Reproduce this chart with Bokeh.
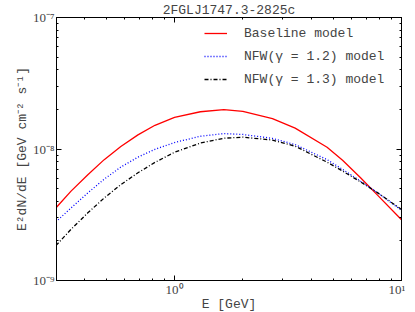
from bokeh.plotting import figure
from bokeh.models import (Range1d, LogAxis, FixedTicker, CustomJSTickFormatter,
                          Legend, LegendItem, ColumnDataSource)
from bokeh.embed import file_html
from bokeh.resources import INLINE

# ---- data ----
energy = [0.30, 0.35, 0.415, 0.49, 0.58, 0.69, 0.82, 1.0, 1.3, 1.65, 2.0, 2.7, 3.4, 4.7, 5.5, 6.6, 7.8, 10.0]
baseline = [3.56, 4.78, 6.38, 8.30, 10.45, 12.8, 15.15, 17.4, 19.2, 19.9, 19.3, 17.0, 14.4, 10.3, 8.2, 6.05, 4.5, 2.9]
nfw_12 = [2.79, 3.56, 4.64, 5.90, 7.29, 8.67, 9.95, 11.2, 12.5, 13.1, 12.9, 12.05, 10.8, 8.3, 7.0, 5.69, 4.68, 3.42]
nfw_13 = [1.84, 2.45, 3.27, 4.24, 5.36, 6.59, 7.91, 9.44, 11.1, 12.08, 12.3, 11.7, 10.5, 7.94, 6.8, 5.62, 4.68, 3.47]
scale = 1e-9
series_labels = ["Baseline model", "NFW(\u03b3 = 1.2) model", "NFW(\u03b3 = 1.3) model"]
title_text = "2FGLJ1747.3-2825c"
x_label = "E [GeV]"
y_label = "E\u00b2dN/dE [GeV cm\u207b\u00b2 s\u207b\u00b9]"
x_major = [1.0, 10.0]
x_minor = [0.4, 0.5, 0.6, 0.7, 0.8, 0.9, 2, 3, 4, 5, 6, 7, 8, 9]
y_major = [1e-9, 1e-8, 1e-7]
y_minor = [k * 1e-9 for k in range(2, 10)] + [k * 1e-8 for k in range(2, 10)]

src = ColumnDataSource(dict(
    e=energy,
    base=[v * scale for v in baseline],
    n12=[v * scale for v in nfw_12],
    n13=[v * scale for v in nfw_13],
))

mono = "Liberation Mono"
serif = "Liberation Serif"

p = figure(frame_width=345, frame_height=263, x_axis_type="log", y_axis_type="log",
           x_range=Range1d(0.302, 10), y_range=Range1d(1e-9, 1e-7),
           output_backend="svg", toolbar_location=None,
           min_border_left=50, min_border_right=4, min_border_top=2, min_border_bottom=4)
p.margin = (0, 0, 0, 6)

p.title.text = title_text
p.title.text_font = mono
p.title.text_font_size = "13px"
p.title.text_font_style = "normal"
p.title.align = "center"
p.title.standoff = 0

p.grid.visible = False
p.outline_line_color = "black"
p.outline_line_width = 1
p.background_fill_color = "white"
p.border_fill_color = "white"

fmt = CustomJSTickFormatter(code="""
const e = Math.round(Math.log10(tick));
const sup = {'-':'\u207b','0':'\u2070','1':'\u00b9','2':'\u00b2','3':'\u00b3','4':'\u2074','5':'\u2075','6':'\u2076','7':'\u2077','8':'\u2078','9':'\u2079'};
return '10' + String(e).split('').map(c => sup[c]).join('');
""")

def style_axis(ax, labels=True):
    ax.axis_line_color = "black"
    ax.major_tick_in = 5
    ax.major_tick_out = 0
    ax.minor_tick_in = 2
    ax.minor_tick_out = 0
    ax.major_tick_line_color = "black"
    ax.minor_tick_line_color = "black"
    ax.major_label_text_font = serif
    ax.major_label_text_font_size = "13px"
    ax.major_label_standoff = 2
    ax.axis_label_text_font = mono
    ax.axis_label_text_font_size = "13px"
    ax.axis_label_text_font_style = "normal"
    ax.axis_label_standoff = 0
    if not labels:
        ax.major_label_text_font_size = "1px"
        ax.major_label_text_color = None
        ax.major_label_standoff = 0

p.xaxis.ticker = FixedTicker(ticks=x_major, minor_ticks=x_minor)
p.yaxis.ticker = FixedTicker(ticks=y_major, minor_ticks=y_minor)
p.xaxis.formatter = fmt
p.yaxis.formatter = fmt
p.xaxis.axis_label = x_label
p.yaxis.axis_label = y_label
style_axis(p.xaxis[0])
style_axis(p.yaxis[0])
p.xaxis.major_label_standoff = 1
p.xaxis.axis_label_standoff = -3

top_ax = LogAxis(ticker=FixedTicker(ticks=x_major, minor_ticks=x_minor))
right_ax = LogAxis(ticker=FixedTicker(ticks=y_major, minor_ticks=y_minor))
style_axis(top_ax, labels=False)
style_axis(right_ax, labels=False)
p.add_layout(top_ax, "above")
p.add_layout(right_ax, "right")

r1 = p.line("e", "base", source=src, line_color="#ff0000", line_width=1.3)
r2 = p.line("e", "n12", source=src, line_color="#0000ff", line_width=1.3, line_dash="1 2")
r3 = p.line("e", "n13", source=src, line_color="black", line_width=1.3, line_dash="4 2 1 2")

legend = Legend(items=[LegendItem(label=series_labels[0], renderers=[r1]),
                       LegendItem(label=series_labels[1], renderers=[r2]),
                       LegendItem(label=series_labels[2], renderers=[r3])],
                location=(148, 192))
legend.border_line_color = None
legend.background_fill_alpha = 0
legend.label_text_font = mono
legend.label_text_font_size = "13px"
legend.glyph_width = 23
legend.glyph_height = 18
legend.label_height = 18
legend.label_standoff = 17
legend.spacing = 5
legend.padding = 5
legend.margin = 0
p.add_layout(legend, "center")

open("out.html", "w").write(file_html(p, INLINE))
